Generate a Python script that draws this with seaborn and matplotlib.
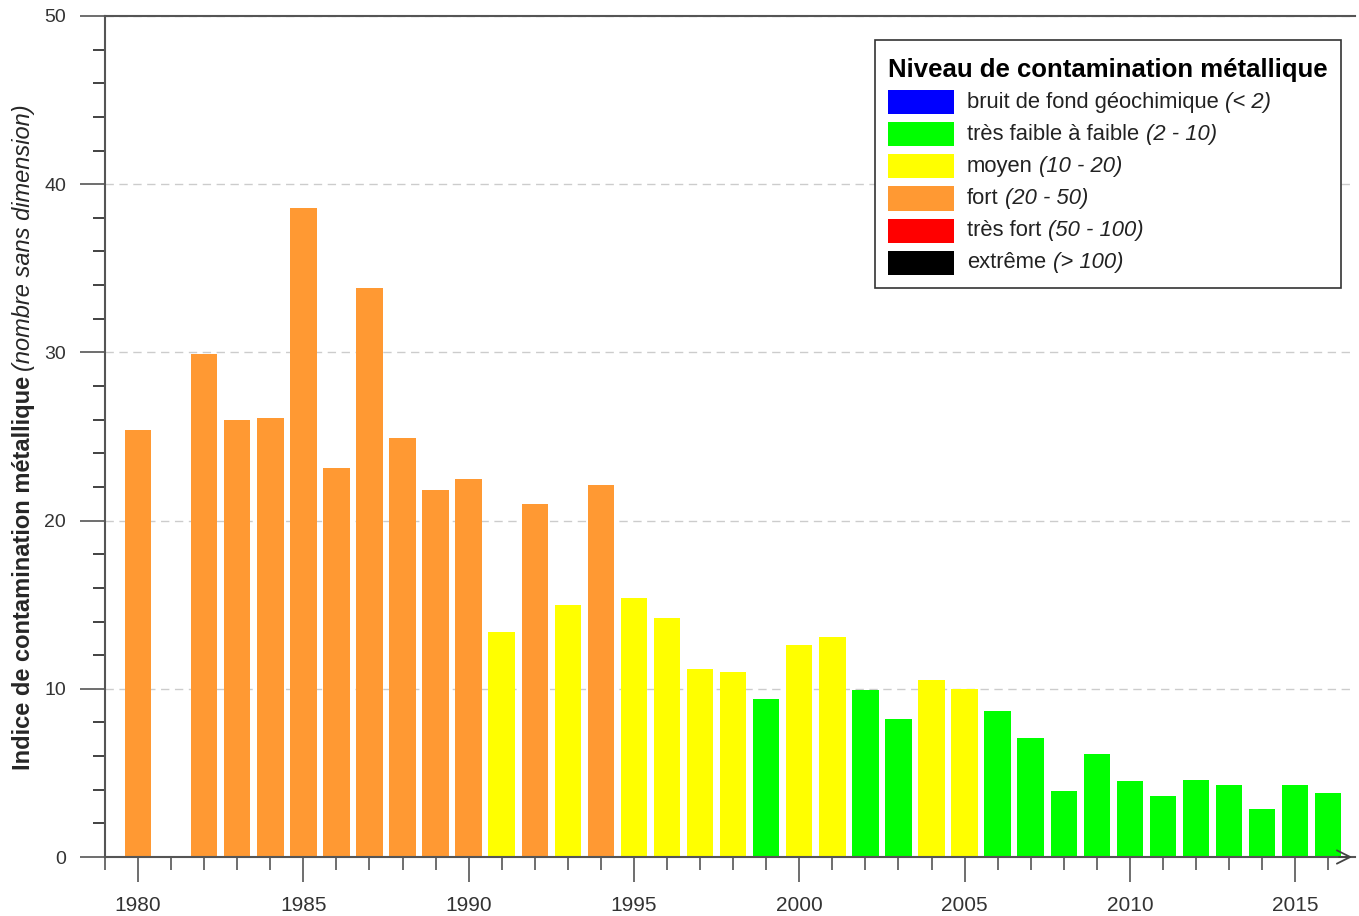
import numpy as np
import pandas as pd
import matplotlib
matplotlib.use("Agg")
import matplotlib.pyplot as plt
import seaborn as sns
from matplotlib.patches import Rectangle
from matplotlib.ticker import MultipleLocator
from matplotlib.offsetbox import AnchoredOffsetbox, DrawingArea, HPacker, TextArea, VPacker

# Données
annees = [1980, 1982, 1983, 1984, 1985, 1986, 1987, 1988, 1989, 1990,
          1991, 1992, 1993, 1994, 1995, 1996, 1997, 1998, 1999, 2000,
          2001, 2002, 2003, 2004, 2005, 2006, 2007, 2008, 2009, 2010,
          2011, 2012, 2013, 2014, 2015, 2016]
indices = [25.4, 29.9, 26.0, 26.1, 38.6, 23.1, 33.8, 24.9, 21.8, 22.5,
           13.4, 21.0, 15.0, 22.1, 15.4, 14.2, 11.2, 11.0, 9.4, 12.6,
           13.1, 9.9, 8.2, 10.5, 10.0, 8.7, 7.1, 3.9, 6.1, 4.5,
           3.6, 4.6, 4.3, 2.85, 4.3, 3.8]

niveaux = ["bruit de fond géochimique", "très faible à faible", "moyen",
           "fort", "très fort", "extrême"]
plages = ["(< 2)", "(2 - 10)", "(10 - 20)", "(20 - 50)", "(50 - 100)", "(> 100)"]
couleurs = ["#0000FF", "#00FF00", "#FFFF00", "#FF9933", "#FF0000", "#000000"]
bornes = [0, 2, 10, 20, 50, 100, np.inf]

df = pd.DataFrame({"annee": annees, "indice": indices})
df["niveau"] = pd.cut(df["indice"], bins=bornes, labels=niveaux, right=False).astype(str)

sns.set_style("white")
plt.rcParams["font.family"] = ["Liberation Sans", "DejaVu Sans"]

fig, ax = plt.subplots(figsize=(13.59, 9.16), dpi=100)
fig.subplots_adjust(left=105 / 1359, right=1355 / 1359, bottom=1 - 857 / 916, top=1 - 16 / 916)

sns.barplot(data=df, x="annee", y="indice", hue="niveau", hue_order=niveaux,
            palette=dict(zip(niveaux, couleurs)), native_scale=True, dodge=False,
            width=0.8, saturation=1, errorbar=None, legend=False, linewidth=0, ax=ax)

ax.set_xlim(1979, 2016.81)
ax.set_ylim(0, 50)
ax.set_xlabel("")
ax.set_ylabel("")

# Axes et graduations
ax.xaxis.set_major_locator(MultipleLocator(5))
ax.xaxis.set_minor_locator(MultipleLocator(1))
ax.yaxis.set_major_locator(MultipleLocator(10))
ax.yaxis.set_minor_locator(MultipleLocator(2))
ax.tick_params(axis="x", which="major", length=18, width=1.2, color="#555555",
               labelsize=15, labelcolor="#333333", pad=10, bottom=True)
ax.tick_params(axis="x", which="minor", length=9, width=1.2, color="#555555", bottom=True)
ax.tick_params(axis="y", which="major", length=18, width=1.2, color="#555555",
               labelsize=14, labelcolor="#333333", pad=10, left=True)
ax.tick_params(axis="y", which="minor", length=9, width=1.2, color="#222222", left=True)

ax.yaxis.grid(True, which="major", linestyle=(0, (6, 4)), color="#cccccc", linewidth=1)
ax.xaxis.grid(False)
ax.set_axisbelow(True)

for cote in ["left", "bottom", "top"]:
    ax.spines[cote].set_visible(True)
    ax.spines[cote].set_color("#555555")
    ax.spines[cote].set_linewidth(1.5)
ax.spines["right"].set_visible(False)

ax.annotate("", xy=(1.0, 0), xycoords="axes fraction", xytext=(0.985, 0),
            arrowprops=dict(arrowstyle="->", color="#444444", lw=1.3, mutation_scale=24),
            annotation_clip=False)

# Titre de l'axe Y (gras + italique)
lab1 = fig.text(24 / 1359, 1 - 770 / 916, "Indice de contamination métallique",
                rotation=90, ha="center", va="bottom", fontsize=17, fontweight="bold",
                family=["Liberation Sans Narrow", "Liberation Sans", "DejaVu Sans"])
fig.canvas.draw()
bb = lab1.get_window_extent()
fig.text(24 / 1359, (bb.y1 + 5) / fig.bbox.height, "(nombre sans dimension)",
         rotation=90, ha="center", va="bottom", fontsize=17, style="italic",
         family=["Liberation Sans Narrow", "Liberation Sans", "DejaVu Sans"])

# Légende
titre = VPacker(children=[DrawingArea(0, 3.6, 0, 0),
                          TextArea("Niveau de contamination métallique",
                                   textprops=dict(fontsize=18.5, fontweight="bold",
                                                  color="black"))],
                sep=0, pad=0, align="left")
lignes = [titre]
for nom, plage, coul in zip(niveaux, plages, couleurs):
    da = DrawingArea(47.5, 17.3, 0, 0)
    da.add_artist(Rectangle((0, 0), 47.5, 17.3, facecolor=coul, edgecolor="none"))
    texte = HPacker(children=[TextArea(nom, textprops=dict(fontsize=15.8, color="#222222")),
                              TextArea(plage, textprops=dict(fontsize=15.8, style="italic",
                                                             color="#222222"))],
                    sep=5, pad=0, align="baseline")
    lignes.append(HPacker(children=[da, texte], sep=9, pad=0, align="center"))
boite = VPacker(children=lignes, sep=5.8, pad=0, align="left")
leg = AnchoredOffsetbox(loc="upper left", child=boite, pad=0.95, borderpad=0,
                        frameon=True, prop=dict(size=10),
                        bbox_to_anchor=(875 / 1359, 1 - 40 / 916),
                        bbox_transform=fig.transFigure)
leg.patch.set_boxstyle("square", pad=0)
leg.patch.set_edgecolor("#333333")
leg.patch.set_linewidth(1.2)
leg.set_zorder(5)
ax.add_artist(leg)

fig.savefig("out.png", dpi=100)
